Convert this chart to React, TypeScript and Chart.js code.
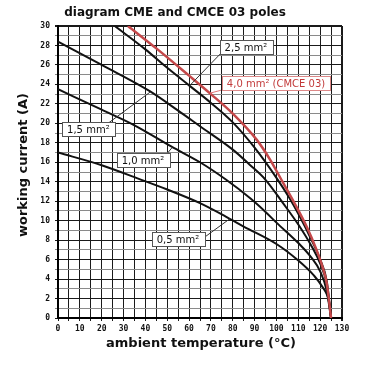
import React, { useEffect, useRef } from "react";
import { Chart, registerables } from "chart.js";

Chart.register(...registerables);

const titleText = "diagram CME and CMCE 03 poles";
const xTitle = "ambient temperature (°C)";
const yTitle = "working current (A)";

// series: ambient temperature (°C) -> working current (A)
const t05 = [0, 20, 37, 50, 65, 77, 85, 100, 110, 117, 121, 124, 125];
const i05 = [17, 15.7, 14.3, 13.2, 11.8, 10.4, 9.4, 7.6, 5.9, 4.4, 3.2, 1.7, 0];

const t10 = [0, 20, 35, 52, 65, 77, 88, 95, 100, 110, 116, 120, 123, 125];
const i10 = [23.5, 21.4, 19.8, 17.6, 16.0, 14.2, 12.3, 10.9, 9.8, 7.7, 6.2, 4.8, 2.8, 0];

const t15 = [0, 20, 42, 55, 65, 80, 88, 95, 103, 110, 116, 120, 123, 125];
const i15 = [28.4, 26.0, 23.3, 21.3, 19.7, 17.3, 15.7, 14.2, 11.8, 9.6, 7.4, 5.6, 3.5, 0];

const t25 = [26, 40, 50, 60, 70, 80, 90, 100, 106, 110, 115, 120, 123, 125];
const i25 = [30, 27.6, 25.7, 23.9, 22.1, 20.1, 17.5, 14.4, 12.3, 10.7, 8.5, 6.0, 3.8, 0];

const t40 = [32, 45, 60, 70, 80, 91, 97, 103, 108, 114, 118, 121, 123, 125];
const i40 = [30, 27.7, 24.9, 23.0, 21.0, 18.3, 16.3, 13.9, 11.9, 9.3, 7.2, 5.3, 3.6, 0];

const seriesNames = ["0,5 mm²", "1,0 mm²", "1,5 mm²", "2,5 mm²", "4,0 mm² (CMCE 03)"];

// label annotations: box centre (°C, A) and leader line from (°C, A) to (°C, A)
const labelNames = ["2,5 mm²", "4,0 mm² (CMCE 03)", "1,5 mm²", "1,0 mm²", "0,5 mm²"];
const labelBoxX = [86, 99.8, 13.9, 38.9, 54.9];
const labelBoxY = [27.8, 24.1, 19.4, 16.2, 8.07];
const leaderFromX = [75, 74.6, 22.9, 49.4, 67.7];
const leaderFromY = [27.3, 23.4, 20.0, 16.75, 8.4];
const leaderToX = [60.4, 69.6, 42.1, 52.2, 78.7];
const leaderToY = [23.9, 23.1, 23.2, 17.5, 10.2];
const labelRed = [false, true, false, false, false];

const toPts = (xs: number[], ys: number[]) => xs.map((x, k) => ({ x, y: ys[k] }));

const textPlugin = {
  id: "texts",
  afterDraw(chart: any) {
    const ctx = chart.ctx;
    ctx.save();
    ctx.fillStyle = "#111";
    ctx.textBaseline = "middle";
    ctx.textAlign = "center";
    ctx.font = 'bold 12px "DejaVu Sans"';
    ctx.fillText(titleText, 175, 13);
    ctx.font = 'bold 13px "DejaVu Sans"';
    ctx.fillText(xTitle, 201, 344);
    ctx.translate(24, 165);
    ctx.rotate(-Math.PI / 2);
    ctx.fillText(yTitle, 0, 0);
    ctx.restore();
  },
};

const labelPlugin = {
  id: "labels",
  afterDatasetsDraw(chart: any) {
    const ctx = chart.ctx;
    const xs = chart.scales.x;
    const ys = chart.scales.y;
    ctx.save();
    ctx.font = '10px "DejaVu Sans"';
    ctx.textBaseline = "middle";
    ctx.textAlign = "center";
    labelNames.forEach((name, k) => {
      const red = labelRed[k];
      ctx.beginPath();
      ctx.strokeStyle = red ? "#d77" : "#333";
      ctx.lineWidth = 1;
      ctx.moveTo(xs.getPixelForValue(leaderFromX[k]), ys.getPixelForValue(leaderFromY[k]));
      ctx.lineTo(xs.getPixelForValue(leaderToX[k]), ys.getPixelForValue(leaderToY[k]));
      ctx.stroke();
      const cx = xs.getPixelForValue(labelBoxX[k]);
      const cy = ys.getPixelForValue(labelBoxY[k]);
      const w = ctx.measureText(name).width + 10;
      const h = 14;
      ctx.fillStyle = "#fff";
      ctx.fillRect(Math.round(cx - w / 2) + 0.5, Math.round(cy - h / 2) + 0.5, Math.round(w), h);
      ctx.strokeStyle = red ? "#d88" : "#555";
      ctx.strokeRect(Math.round(cx - w / 2) + 0.5, Math.round(cy - h / 2) + 0.5, Math.round(w), h);
      ctx.fillStyle = red ? "#c23a3a" : "#111";
      ctx.fillText(name, cx, cy + 1);
    });
    ctx.restore();
  },
};

export default function App() {
  const ref = useRef<HTMLCanvasElement | null>(null);
  useEffect(() => {
    if (!ref.current) return;
    const black = { borderColor: "#111", borderWidth: 2, pointRadius: 0, fill: false, cubicInterpolationMode: "monotone" as const, order: 1 };
    const chart = new Chart(ref.current, {
      type: "line",
      data: {
        datasets: [
          { label: seriesNames[0], data: toPts(t05, i05), ...black },
          { label: seriesNames[1], data: toPts(t10, i10), ...black },
          { label: seriesNames[2], data: toPts(t15, i15), ...black },
          { label: seriesNames[3], data: toPts(t25, i25), ...black },
          {
            label: seriesNames[4],
            data: toPts(t40, i40),
            borderColor: "#c4484a",
            borderWidth: 2.5,
            pointRadius: 0,
            fill: false,
            cubicInterpolationMode: "monotone" as const,
            order: 0,
          },
        ],
      },
      options: {
        responsive: false,
        animation: false,
        layout: { padding: { left: 0, top: 26, right: 38, bottom: 0 } },
        plugins: { legend: { display: false }, tooltip: { enabled: false }, title: { display: false } },
        scales: {
          x: {
            type: "linear",
            min: 0,
            max: 130,
            afterFit: (s: any) => {
              s.height = 62;
            },
            ticks: {
              stepSize: 5,
              autoSkip: false,
              maxRotation: 0,
              padding: 3,
              color: "#111",
              font: { family: '"DejaVu Sans Mono"', size: 8, weight: "bold" },
              callback: (v: any) => (Number(v) % 10 === 0 ? String(v) : ""),
            },
            grid: {
              color: "#1a1a1a",
              lineWidth: (c: any) => (c.tick && c.tick.value === 130 ? 2 : 1),
              tickLength: 3,
            },
            border: { display: true, color: "#000", width: 2 },
          },
          y: {
            type: "linear",
            min: 0,
            max: 30,
            afterFit: (s: any) => {
              s.width = 58;
            },
            ticks: {
              stepSize: 1,
              autoSkip: false,
              padding: 5,
              color: "#111",
              font: { family: '"DejaVu Sans Mono"', size: 8, weight: "bold" },
              callback: (v: any) => (Number(v) % 2 === 0 ? String(v) : ""),
            },
            grid: {
              color: (c: any) => (c.tick && c.tick.value % 2 === 0 ? "#1a1a1a" : "#8a8a8a"),
              lineWidth: (c: any) => (c.tick && c.tick.value === 30 ? 2 : 1),
              tickLength: 3,
            },
            border: { display: true, color: "#000", width: 2 },
          },
        },
      },
      plugins: [textPlugin, labelPlugin],
    });
    return () => chart.destroy();
  }, []);
  return (
    <div style={{ position: "absolute", left: 0, top: 0, width: 380, height: 380, background: "#fff" }}>
      <canvas ref={ref} width={380} height={380} />
    </div>
  );
}
